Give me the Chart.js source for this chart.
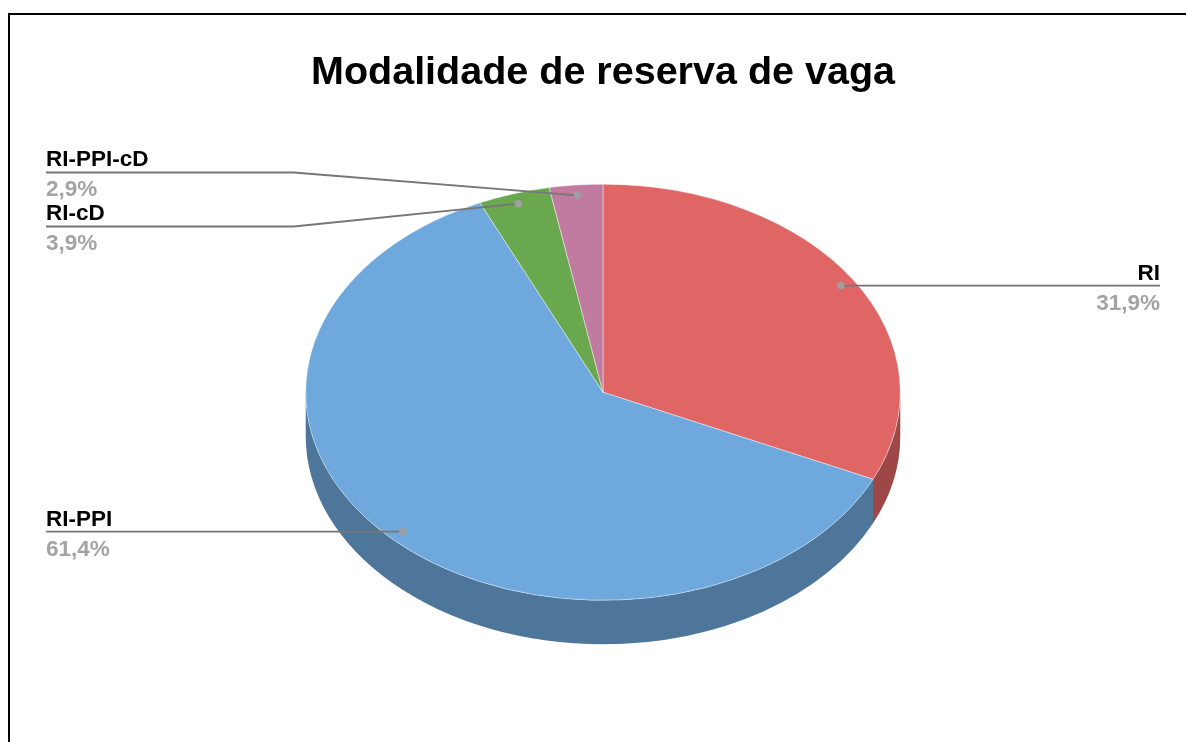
<!DOCTYPE html>
<html>
<head>
<meta charset="utf-8">
<script src="https://cdn.jsdelivr.net/npm/chart.js"></script>
<style>
  html, body { margin: 0; padding: 0; background: #fff; }
  #wrap { width: 1186px; height: 742px; position: relative; }
</style>
</head>
<body>
<div id="wrap"><canvas id="chart" width="1186" height="742"></canvas></div>
<script>
const labels = ["RI", "RI-PPI", "RI-cD", "RI-PPI-cD"];
const values = [31.9, 61.4, 3.9, 2.9];
const colors = ["#E06666", "#6FA8DC", "#6AA84F", "#C27BA0"];
const sideColors = ["#9D4747", "#4E769A", "#4A7637", "#885670"];

// tilt of the pie and thickness of its side
const TILT = 0.70;
const DEPTH = 44;
const FONT = "'Liberation Sans', Arial, sans-serif";

function fmtPct(v) {
    return v.toFixed(1).replace(".", ",") + "%";
}

const framePlugin = {
    id: "frame",
    beforeDraw(chart) {
        const ctx = chart.ctx;
        ctx.save();
        ctx.fillStyle = "#fff";
        ctx.fillRect(0, 0, chart.width, chart.height);
        ctx.strokeStyle = "#000";
        ctx.lineWidth = 2;
        ctx.strokeRect(9, 14, chart.width + 50, chart.height + 50);
        ctx.restore();
    }
};

// squash the pie vertically and paint a darker side under it
const tiltPlugin = {
    id: "tilt",
    beforeDatasetsDraw(chart) {
        const ctx = chart.ctx;
        const meta = chart.getDatasetMeta(0);
        const first = meta.data[0];
        const cx = first.x, cy = first.y;
        const rx = first.outerRadius, ry = rx * TILT;

        ctx.save();
        meta.data.forEach((arc, i) => {
            const a0 = Math.max(arc.startAngle, 0);
            const a1 = Math.min(arc.endAngle, Math.PI);
            if (a1 <= a0) return;
            ctx.beginPath();
            ctx.ellipse(cx, cy, rx, ry, 0, a0, a1);
            ctx.ellipse(cx, cy + DEPTH, rx, ry, 0, a1, a0, true);
            ctx.closePath();
            ctx.fillStyle = sideColors[i];
            ctx.fill();
        });
        ctx.restore();

        ctx.save();
        ctx.translate(cx, cy);
        ctx.scale(1, TILT);
        ctx.translate(-cx, -cy);
    },
    afterDatasetsDraw(chart) {
        const ctx = chart.ctx;
        ctx.restore();

        const meta = chart.getDatasetMeta(0);
        const first = meta.data[0];
        const cx = first.x, cy = first.y;
        const rx = first.outerRadius;

        const items = meta.data.map((arc, i) => {
            const mid = (arc.startAngle + arc.endAngle) / 2;
            const px = cx + 0.95 * rx * Math.cos(mid);
            const py = cy + 0.95 * rx * TILT * Math.sin(mid);
            return { i, px, py, ly: py, right: Math.cos(mid) >= 0 };
        });

        // spread labels that would overlap on the same side
        const GAP = 54;
        [true, false].forEach(side => {
            const list = items.filter(d => d.right === side).sort((a, b) => a.py - b.py);
            let group = [];
            const flush = () => {
                if (!group.length) return;
                const mean = group.reduce((s, d) => s + d.py, 0) / group.length;
                group.forEach((d, k) => { d.ly = mean + (k - (group.length - 1) / 2) * GAP; });
                group = [];
            };
            list.forEach(d => {
                if (group.length && d.py - group[group.length - 1].py > GAP) flush();
                group.push(d);
            });
            flush();
        });

        const leftX = 46, rightX = 1160;
        ctx.save();
        items.forEach(d => {
            const elbowX = d.right ? cx + rx + 12 : cx - rx - 12;
            const endX = d.right ? rightX : leftX;

            ctx.strokeStyle = "#767676";
            ctx.lineWidth = 1.8;
            ctx.beginPath();
            ctx.moveTo(d.px, d.py);
            ctx.lineTo(elbowX, d.ly);
            ctx.lineTo(endX, d.ly);
            ctx.stroke();

            ctx.fillStyle = "#9e9e9e";
            ctx.beginPath();
            ctx.arc(d.px, d.py, 3.8, 0, Math.PI * 2);
            ctx.fill();

            ctx.textAlign = d.right ? "right" : "left";
            ctx.textBaseline = "alphabetic";
            ctx.font = "bold 22.5px " + FONT;
            ctx.fillStyle = "#000";
            ctx.fillText(labels[d.i], endX, d.ly - 6);
            ctx.fillStyle = "#a3a3a3";
            ctx.fillText(fmtPct(values[d.i]), endX, d.ly + 24);
        });
        ctx.restore();
    }
};

new Chart(document.getElementById("chart"), {
    type: "pie",
    data: {
        labels: labels,
        datasets: [{
            data: values,
            backgroundColor: colors,
            borderColor: "rgba(255,255,255,0.5)",
            borderWidth: 1
        }]
    },
    options: {
        responsive: false,
        animation: false,
        events: [],
        layout: { padding: { top: 41, left: 305, right: 285, bottom: 52 } },
        plugins: {
            legend: { display: false },
            tooltip: { enabled: false },
            title: {
                display: true,
                text: "Modalidade de reserva de vaga",
                color: "#000",
                font: { family: FONT, size: 39.5, weight: "bold", lineHeight: 1.1 },
                padding: { top: 10, bottom: 0 }
            }
        }
    },
    plugins: [framePlugin, tiltPlugin]
});
</script>
</body>
</html>
